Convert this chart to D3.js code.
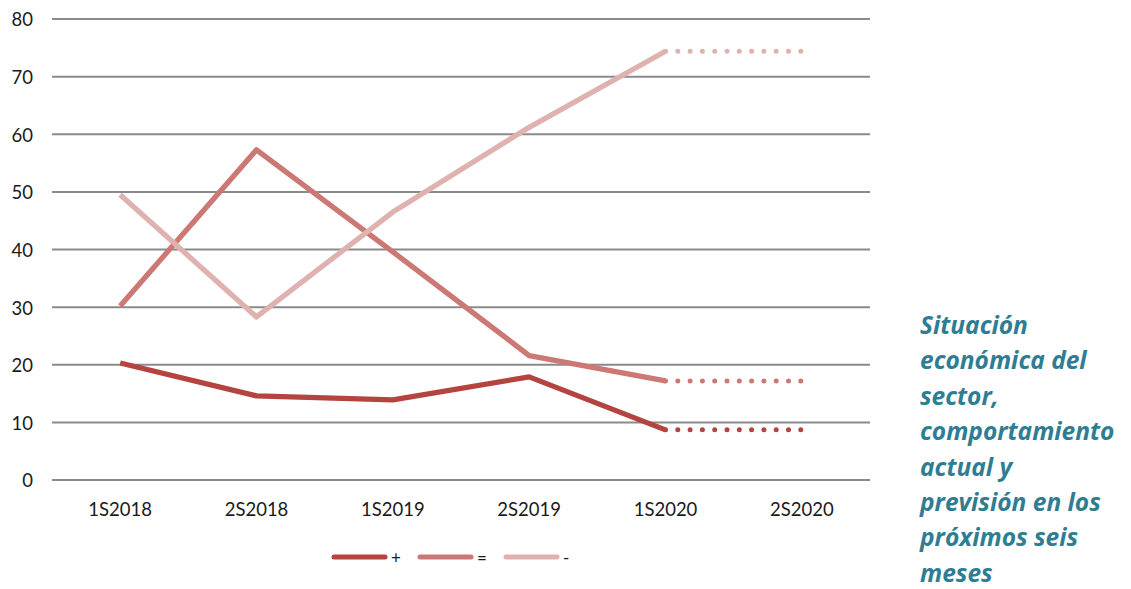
<!DOCTYPE html>
<html>
<head>
<meta charset="utf-8">
<script src="https://cdn.jsdelivr.net/npm/d3@7"></script>
<style>
  html, body { margin: 0; padding: 0; background: #fff; }
  svg { display: block; }
</style>
</head>
<body>
<svg id="chart" width="1131" height="589"></svg>
<script>
// Half-year periods
const categories = ["1S2018", "2S2018", "1S2019", "2S2019", "1S2020", "2S2020"];
// Observed values (last value is the forecast for the next six months)
const plusValues  = [20.3, 14.6, 13.9, 17.9, 8.7, 8.7];
const equalValues = [30.2, 57.3, 39.6, 21.6, 17.2, 17.2];
const minusValues = [49.5, 28.3, 46.5, 61.2, 74.4, 74.4];
const seriesNames = ["+", "=", "-"];
const yTicks = [0, 10, 20, 30, 40, 50, 60, 70, 80];
const titleLines = ["Situación", "económica del", "sector,", "comportamiento", "actual y", "previsión en los", "próximos seis", "meses"];

const colors = ["#b4443f", "#cc7874", "#dfb2b0"];
const series = [plusValues, equalValues, minusValues];
const labelFont = "Lato, 'Open Sans', sans-serif";

const svg = d3.select("#chart");
const plotLeft = 52, plotRight = 870, plotTop = 19, plotBottom = 480;

const x = d3.scaleBand().domain(categories).range([plotLeft, plotRight]);
const y = d3.scaleLinear().domain([0, 80]).range([plotBottom, plotTop]);
const cx = c => x(c) + x.bandwidth() / 2;

// Horizontal gridlines
svg.append("g").selectAll("line").data(yTicks).join("line")
  .attr("x1", plotLeft).attr("x2", plotRight)
  .attr("y1", d => y(d)).attr("y2", d => y(d))
  .attr("stroke", "#8a8a8a").attr("stroke-width", 2);

// Y axis labels
const yAxis = d3.axisLeft(y).tickValues(yTicks).tickSize(0).tickPadding(0);
const gy = svg.append("g").attr("transform", `translate(${plotLeft - 19},1)`).call(yAxis);
gy.select(".domain").remove();
gy.selectAll("text").attr("font-family", labelFont)
  .attr("font-size", 18.5).attr("fill", "#1a1a1a");

// X axis labels
const xAxis = d3.axisBottom(x).tickSize(0).tickPadding(0);
const gx = svg.append("g").attr("transform", `translate(0,${plotBottom + 23})`).call(xAxis);
gx.select(".domain").remove();
gx.selectAll("text").attr("font-family", labelFont)
  .attr("font-size", 18.5).attr("fill", "#1a1a1a");

const line = d3.line().x(d => cx(d.c)).y(d => y(d.v));

// Draw series: solid up to 1S2020, dotted forecast afterwards
series.forEach((vals, i) => {
  const pts = vals.map((v, j) => ({ c: categories[j], v }));
  const solid = pts.slice(0, 5);
  const forecast = pts.slice(4);
  svg.append("path").datum(solid).attr("d", line)
    .attr("fill", "none").attr("stroke", colors[i])
    .attr("stroke-width", 5.3).attr("stroke-linejoin", "round");
  svg.append("path").datum(forecast).attr("d", line)
    .attr("fill", "none").attr("stroke", colors[i])
    .attr("stroke-width", 5).attr("stroke-linecap", "round")
    .attr("stroke-dasharray", "0 12.3");
});

// Legend
const legend = svg.append("g").attr("transform", "translate(332,557)");
seriesNames.forEach((name, i) => {
  const g = legend.append("g").attr("transform", `translate(${i * 86},0)`);
  g.append("line").attr("x1", 2).attr("x2", 53).attr("y1", 0).attr("y2", 0)
    .attr("stroke", colors[i]).attr("stroke-width", 5).attr("stroke-linecap", "round");
  g.append("text").attr("x", 59).attr("y", 7).text(name)
    .attr("font-family", labelFont).attr("font-size", 17).attr("fill", "#1a1a1a");
});

// Side title
const title = svg.append("text")
  .attr("font-family", "'Open Sans', Lato, sans-serif")
  .attr("font-size", 24.5).attr("font-weight", "bold").attr("font-style", "italic")
  .attr("fill", "#2e7d93");
titleLines.forEach((t, i) => {
  title.append("tspan").attr("x", 920).attr("y", 334 + i * 35.4).text(t);
});
</script>
</body>
</html>
